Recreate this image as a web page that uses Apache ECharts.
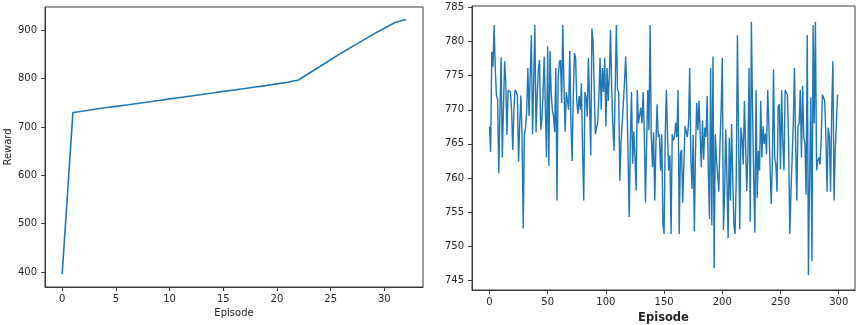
<!DOCTYPE html>
<html>
<head>
<meta charset="utf-8">
<script src="https://cdn.jsdelivr.net/npm/echarts@6/dist/echarts.min.js"></script>
<style>html,body{margin:0;padding:0;background:#fff}#c{width:858px;height:325px}</style>
</head>
<body>
<div id="c"></div>
<script>
// Left panel: reward per episode
const leftRewards = [396,730,733,736.5,739.5,742.5,745.5,748.5,751.5,754.5,758,761,764,767,770,773.5,776.5,779.5,782.5,785.5,789,792.5,797,811,825,839,853,866,879,892,904,916,922];
const leftXTicks = [0,5,10,15,20,25,30];
const leftYTicks = [400,500,600,700,800,900];

// Right panel: noisy reward over 300 episodes
const rightRewards = [
767.5,763.8,778.5,776.3,782.4,776,772.1,771.5,760.7,770,
777.7,763,770,777.1,774,766.3,772.9,772.8,772.6,770,
764.1,770,772.9,772.6,772.1,762.4,768,772.1,766,752.6,
766.4,767.4,770,776.1,769.1,775,780.9,766.4,774,782.4,
766.7,772.1,776,777.3,767.1,768.5,772,777.8,777.6,763,
779.3,761.8,778.6,772.6,770,769,766.7,776.1,756.7,774.6,
777,777.3,771,782.4,773.5,766.8,772.6,771.3,770,778.6,
768,762.5,772,778.3,777.6,771.3,769.4,772,770,773.9,
764,756.7,772.6,771.8,769,777.6,771,763.3,781.9,780,
773,766.4,767.4,768.1,772,777.6,770,776.1,772.6,777.6,
767.6,776.1,771.3,775,781.7,773,767.6,764,773,782.4,
772.9,772.6,759.6,765,768,771,774,777.8,772.6,764,
754.3,765,772.6,762.1,766.8,763,758.2,772.9,768,767.9,
770.3,768,772.6,766.7,756.4,765,772.9,767,782.4,766.4,
761.6,766.7,756.7,765,770.8,766,766.4,761.1,766.4,753.3,
751.8,766.4,772.9,766,761.1,763.3,751.8,766.4,765.5,766,
768.1,766,772.9,751.8,763.6,764.1,756.4,762,767.6,767.4,
766,768,776.1,763,758.4,766.3,752.2,764,771,767,
771.3,771.5,761.6,768.4,762.7,767.4,766,772,761,754,
776.1,753.1,777.8,746.8,766.4,762.7,760.5,758,765,770,
777.6,752.4,758,767.1,760,751.2,765.9,756.7,767.9,760,
753,751.8,760,780.9,766,752.5,767.4,765.8,762,771.3,
765,758.1,763.5,776.1,753.6,782.9,770,760,752,772.9,
757.1,764,761.1,771.3,763,767.6,765,766.5,763.5,772.9,
768,762,756.2,762,775.9,763,762,758,770.5,770.8,
761.3,772.9,765,761.1,772.9,772.5,772.2,765,751.8,758,
763,768,776.1,765,756.7,767.6,768,772.9,763,773.5,
766,765,757.6,780.9,745.8,760,771.8,747.8,782.4,768,
782.9,761.1,762.5,763,762,766,772.2,771.8,771.3,766,
758,767.4,766,758,770,777.1,756.7,764,768,772.2
];
const rightXTicks = [0,50,100,150,200,250,300];
const rightYTicks = [745,750,755,760,765,770,775,780,785];

const FONT = 'DejaVu Sans';
const TXT = '#262626';
const AX = '#3a3a3a';

function xAxisCfg(idx, min, max, ticks, name, nameStyle, gap) {
  return {
    type: 'value', gridIndex: idx, min: min, max: max, position: 'bottom',
    axisLine: {show: true, onZero: false, lineStyle: {color: AX, width: 1}},
    splitLine: {show: false},
    axisTick: {show: true, inside: false, length: 4, lineStyle: {color: AX}, customValues: ticks},
    axisLabel: {show: true, customValues: ticks, color: TXT, fontFamily: FONT, fontSize: 10, margin: 7},
    name: name, nameLocation: 'middle', nameGap: gap,
    nameTextStyle: Object.assign({color: TXT, fontFamily: FONT}, nameStyle)
  };
}
function yAxisCfg(idx, min, max, ticks, name) {
  return {
    type: 'value', gridIndex: idx, min: min, max: max, position: 'left',
    axisLine: {show: true, onZero: false, lineStyle: {color: AX, width: 1}},
    splitLine: {show: false},
    axisTick: {show: true, inside: false, length: 4, lineStyle: {color: AX}, customValues: ticks},
    axisLabel: {show: true, customValues: ticks, color: TXT, fontFamily: FONT, fontSize: 10, margin: 8},
    name: name, nameLocation: 'middle', nameGap: 32, nameRotate: 90,
    nameTextStyle: {color: TXT, fontFamily: FONT, fontSize: 10}
  };
}

const chart = echarts.init(document.getElementById('c'), null, {renderer: 'canvas'});
chart.setOption({
  animation: false,
  backgroundColor: '#fff',
  grid: [
    {left: 45, right: 435, top: 7, bottom: 38, show: true, borderColor: AX, borderWidth: 1, backgroundColor: 'transparent', containLabel: false, outerBoundsMode: 'none'},
    {left: 472, right: 3, top: 6, bottom: 35, show: true, borderColor: AX, borderWidth: 1, backgroundColor: 'transparent', containLabel: false, outerBoundsMode: 'none'}
  ],
  xAxis: [
    xAxisCfg(0, -1.6, 33.6, leftXTicks, 'Episode', {fontSize: 10}, 21),
    xAxisCfg(1, -15, 314, rightXTicks, 'Episode', {fontSize: 11.5, fontWeight: 'bold'}, 20)
  ],
  yAxis: [
    yAxisCfg(0, 369, 948, leftYTicks, 'Reward'),
    yAxisCfg(1, 743.6, 785.2, rightYTicks, '')
  ],
  series: [
    {type: 'line', xAxisIndex: 0, yAxisIndex: 0, showSymbol: false,
     lineStyle: {color: '#1f77b4', width: 1.6},
     data: leftRewards.map((v, i) => [i, v])},
    {type: 'line', xAxisIndex: 1, yAxisIndex: 1, showSymbol: false,
     lineStyle: {color: '#1f77b4', width: 1.4},
     data: rightRewards.map((v, i) => [i, v])}
  ]
});
</script>
</body>
</html>
